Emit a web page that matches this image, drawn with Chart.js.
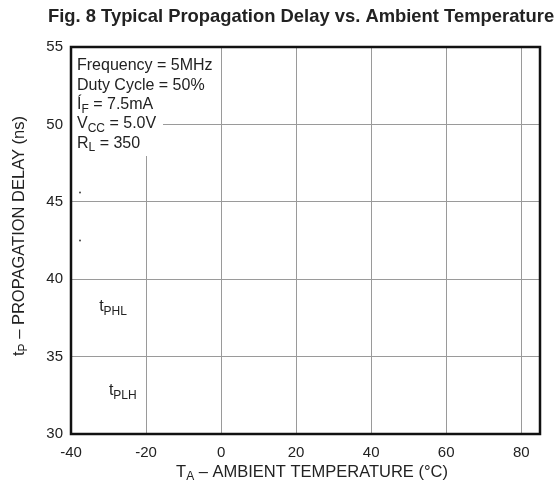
<!DOCTYPE html>
<html>
<head>
<meta charset="utf-8">
<script src="https://cdn.jsdelivr.net/npm/chart.js@4.4.1/dist/chart.umd.min.js"></script>
<style>
  html, body { margin: 0; padding: 0; background: #fff; }
</style>
</head>
<body>
<canvas id="chart" width="560" height="485"></canvas>
<script>
// ─── data ───
const xTicks = [-40, -20, 0, 20, 40, 60, 80];
const yTicks = [30, 35, 40, 45, 50, 55];
const xRange = [-40, 85];
const yRange = [30, 55];
// the two stray dots near the left edge
const markX = [-37.6, -37.6];
const markY = [45.6, 42.5];

// test conditions, [text, subscript, rest]
const conditions = [
    ['Frequency = 5MHz', '', ''],
    ['Duty Cycle = 50%', '', ''],
    ['Í', 'F', ' = 7.5mA'],
    ['V', 'CC', ' = 5.0V'],
    ['R', 'L', ' = 350']
];
const curveLabels = [
    { t: 't', sub: 'PHL', x: -32.5, y: 38.2 },
    { t: 't', sub: 'PLH', x: -29.9, y: 32.8 }
];

const FONT = "'Liberation Sans', Arial, sans-serif";
const TEXT = '#222';

// width of "main + subscript + rest"
function textWidth(ctx, parts, size) {
    let w = 0;
    ctx.font = `${size}px ${FONT}`;
    w += ctx.measureText(parts[0]).width;
    ctx.font = `${Math.round(size * 0.75)}px ${FONT}`;
    w += ctx.measureText(parts[1]).width;
    ctx.font = `${size}px ${FONT}`;
    w += ctx.measureText(parts[2]).width;
    return w;
}
function drawSubText(ctx, parts, x, y, size) {
    ctx.textAlign = 'left';
    ctx.textBaseline = 'middle';
    ctx.fillStyle = TEXT;
    ctx.font = `${size}px ${FONT}`;
    ctx.fillText(parts[0], x, y);
    x += ctx.measureText(parts[0]).width;
    if (parts[1]) {
        ctx.font = `${Math.round(size * 0.75)}px ${FONT}`;
        ctx.fillText(parts[1], x, y + size * 0.3);
        x += ctx.measureText(parts[1]).width;
    }
    if (parts[2]) {
        ctx.font = `${size}px ${FONT}`;
        ctx.fillText(parts[2], x, y);
    }
}

const decorations = {
    id: 'decorations',
    beforeDatasetsDraw(chart) {
        // white box behind the conditions text hides the grid there
        const { ctx, chartArea: a } = chart;
        ctx.save();
        ctx.fillStyle = '#fff';
        ctx.fillRect(a.left + 1, a.top + 1, 162 - a.left, 155 - a.top);
        ctx.restore();
    },
    afterDraw(chart) {
        const { ctx, chartArea: a, scales } = chart;
        ctx.save();

        // frame
        ctx.strokeStyle = '#111';
        ctx.lineWidth = 2.5;
        ctx.strokeRect(a.left, a.top, a.right - a.left, a.bottom - a.top);

        // title
        ctx.fillStyle = TEXT;
        ctx.font = `bold 18.4px ${FONT}`;
        ctx.textAlign = 'center';
        ctx.textBaseline = 'middle';
        ctx.fillText('Fig. 8 Typical Propagation Delay vs. Ambient Temperature', 301, 17);

        // conditions block
        conditions.forEach((c, i) => {
            drawSubText(ctx, c, a.left + 6, a.top + 19 + i * 19.3, 16);
        });

        // curve labels
        curveLabels.forEach(l => {
            drawSubText(ctx, [l.t, l.sub, ''], scales.x.getPixelForValue(l.x),
                scales.y.getPixelForValue(l.y), 16);
        });

        // x axis title
        const xt = ['T', 'A', ' – AMBIENT TEMPERATURE (°C)'];
        const xw = textWidth(ctx, xt, 16.5);
        drawSubText(ctx, xt, 312 - xw / 2, 472, 16.5);

        // y axis title (rotated)
        const yt = ['t', 'P', ' – PROPAGATION DELAY (ns)'];
        const yw = textWidth(ctx, yt, 16.5);
        ctx.translate(19, 236);
        ctx.rotate(-Math.PI / 2);
        drawSubText(ctx, yt, -yw / 2, 0, 16.5);

        ctx.restore();
    }
};

const ctx = document.getElementById('chart').getContext('2d');
new Chart(ctx, {
    type: 'scatter',
    data: {
        datasets: [{
            data: markX.map((x, i) => ({ x, y: markY[i] })),
            pointRadius: 1,
            backgroundColor: '#444',
            borderWidth: 0
        }]
    },
    options: {
        responsive: false,
        animation: false,
        devicePixelRatio: 1,
        layout: { padding: { top: 47, right: 20, left: 0, bottom: 0 } },
        plugins: {
            legend: { display: false },
            tooltip: { enabled: false }
        },
        scales: {
            x: {
                type: 'linear',
                min: xRange[0],
                max: xRange[1],
                afterBuildTicks: s => { s.ticks = xTicks.map(v => ({ value: v })); },
                afterFit: s => { s.height = 51; },
                grid: { color: '#9a9a9a', lineWidth: 1, drawTicks: false },
                border: { display: false },
                ticks: { color: TEXT, padding: 10, maxRotation: 0, font: { family: FONT, size: 15 } }
            },
            y: {
                type: 'linear',
                min: yRange[0],
                max: yRange[1],
                afterBuildTicks: s => { s.ticks = yTicks.map(v => ({ value: v })); },
                afterFit: s => { s.width = 71; },
                grid: { color: '#9a9a9a', lineWidth: 1, drawTicks: false },
                border: { display: false },
                ticks: { color: TEXT, padding: 8, font: { family: FONT, size: 15 } }
            }
        }
    },
    plugins: [decorations]
});
</script>
</body>
</html>
